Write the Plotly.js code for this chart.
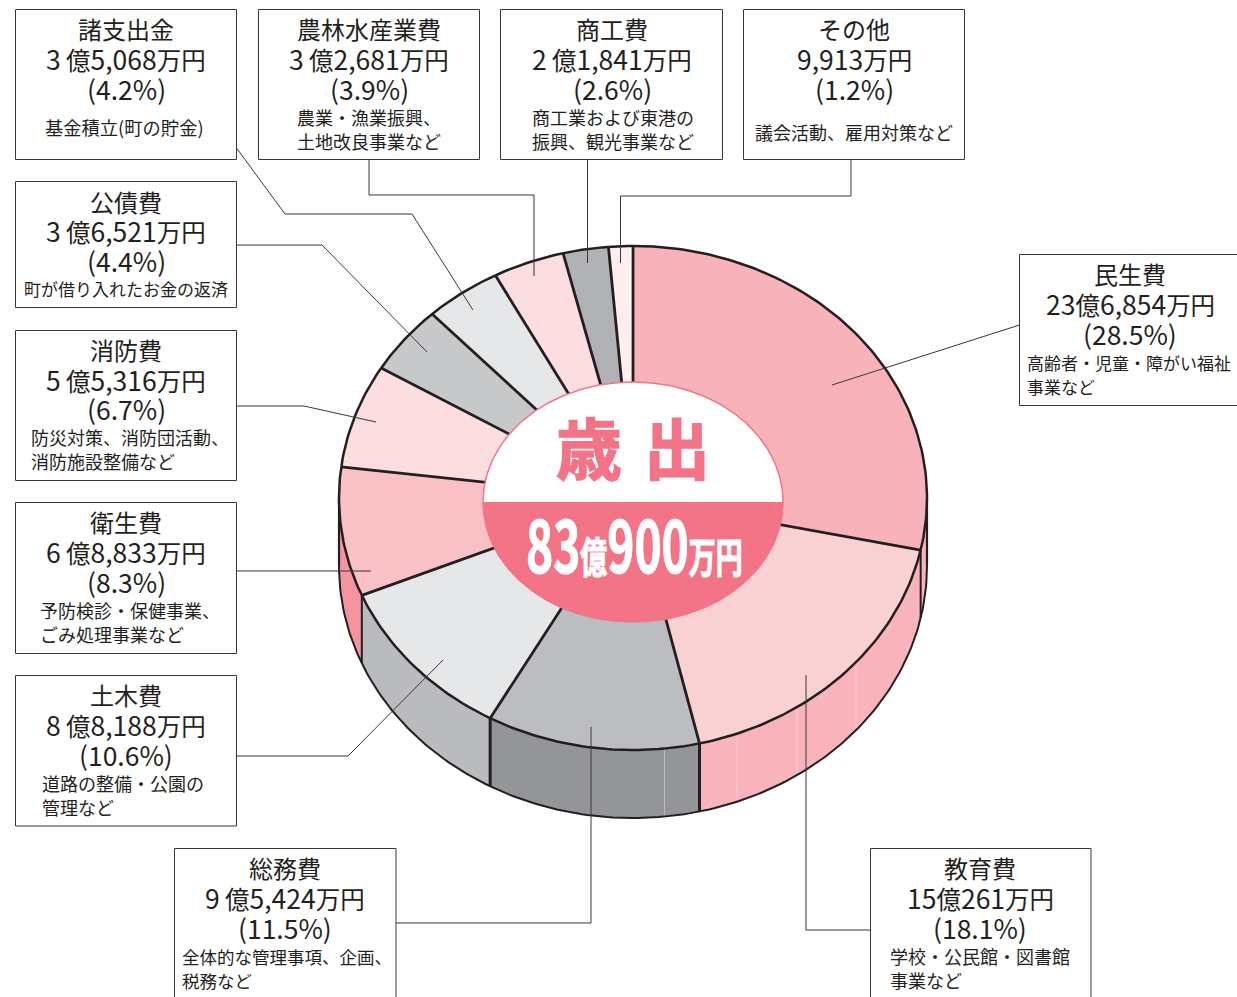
<!DOCTYPE html>
<html><head><meta charset="utf-8">
<script src="https://cdn.plot.ly/plotly-3.0.1.min.js"></script>
<style>html,body{margin:0;padding:0;background:#fff;overflow:hidden}#c{width:1237px;height:997px}</style>
</head><body><div id="c"></div><script>
// ---------- data ----------
const categories=["民生費","教育費","総務費","土木費","衛生費","消防費","公債費","諸支出金","農林水産業費","商工費","その他"];
const values=[236854,150261,95424,88188,68833,55316,36521,35068,32681,21841,9913];
const amounts=["23億6,854万円","15億261万円","9\u2009億5,424万円","8\u2009億8,188万円","6\u2009億8,833万円","5\u2009億5,316万円","3\u2009億6,521万円","3\u2009億5,068万円","3\u2009億2,681万円","2\u2009億1,841万円","9,913万円"];
const percents=["(28.5%)","(18.1%)","(11.5%)","(10.6%)","(8.3%)","(6.7%)","(4.4%)","(4.2%)","(3.9%)","(2.6%)","(1.2%)"];
const notes=[["高齢者・児童・障がい福祉","事業など"],["学校・公民館・図書館","事業など"],["全体的な管理事項、企画、","税務など"],["道路の整備・公園の","管理など"],["予防検診・保健事業、","ごみ処理事業など"],["防災対策、消防団活動、","消防施設整備など"],["町が借り入れたお金の返済"],["基金積立(町の貯金)"],["農業・漁業振興、","土地改良事業など"],["商工業および東港の","振興、観光事業など"],["議会活動、雇用対策など"]];
const topColors=["#F7B3B9","#F9D1D3","#BBBDC1","#E6E7E9","#F9C0C5","#FCDDE0","#C6C8CA","#E6E7E9","#FCDDE0","#B0B2B6","#FEEEEF"];
const sideColors=["#F8B4BA","#F8B4BA","#949599","#B9BBBF","#F4949F","#F8B4BA","#B9BBBF","#B9BBBF","#F8B4BA","#949599","#F8B4BA"];
// the printed pie's slice edges sit a little off the exact shares (degrees)
const edgeNudge=[0,-0.7,-0.8,0,0,0,0,0,0,0,-0.5,-0.6,0];

// ---------- geometry of the drawing ----------
const INK="#231F20", PINK="#F37387";
const cx=633, cy=498, rx=294, ry=252, depth=68;
const hx=633, hy=502, hrx=150, hry=120;
const rad=d=>d*Math.PI/180;
const ex=(t)=>cx+rx*Math.sin(rad(t));
const ey=(t,dy=0)=>cy-ry*Math.cos(rad(t))+dy;
function arc(a,b,dy=0){const n=Math.max(2,Math.ceil(Math.abs(b-a)));const X=[],Y=[];
  for(let i=0;i<=n;i++){const t=a+(b-a)*i/n;X.push(ex(t));Y.push(ey(t,dy));}return [X,Y];}
const total=values.reduce((s,v)=>s+v,0);
let acc=0; const edges=[0];
values.forEach(v=>{acc+=v;edges.push(acc/total*360);});
edges.forEach((e,i)=>{edges[i]=e+edgeNudge[i];});

const traces=[];
const poly=(x,y,fill)=>traces.push({type:"scatter",mode:"lines",x,y,fill:"toself",fillcolor:fill,line:{width:0,color:fill},hoverinfo:"skip",showlegend:false});
const line=(x,y,w,c=INK)=>traces.push({type:"scatter",mode:"lines",x,y,line:{width:w,color:c},hoverinfo:"skip",showlegend:false});

// side walls
values.forEach((v,i)=>{
  const a=Math.max(edges[i],90), b=Math.min(edges[i+1],270);
  if(b<=a) return;
  const [x1,y1]=arc(a,b), [x2,y2]=arc(b,a,depth);
  poly(x1.concat(x2),y1.concat(y2),sideColors[i]);
});
// faint seams on the wall
[[737,737,800],[797,710,773],[856,667,730]].forEach(s=>line([s[0],s[0]],[s[1],s[2]],1,"rgba(255,255,255,0.35)"));
line([664.5,664.5],[750,815],1,"rgba(255,255,255,0.35)");
// wall outlines
{const [x,y]=arc(90,270,depth); line(x,y,2);}
[90,270].forEach(t=>line([ex(t),ex(t)],[ey(t),ey(t,depth)],2.2));
edges.forEach((e,i)=>{ if(e>90&&e<270){ const w=(i===2||i===3)?3:2; line([ex(e),ex(e)],[ey(e),ey(e,depth)],w);} });
// top face
values.forEach((v,i)=>{
  const [x,y]=arc(edges[i],edges[i+1]);
  poly([cx].concat(x),[cy].concat(y),topColors[i]);
});
{const [x,y]=arc(0,360); line(x,y,2.5);}
edges.slice(0,-1).forEach(e=>line([cx,ex(e)],[cy,ey(e)],2.8));
// centre
const hole=(a,b)=>{const X=[],Y=[];for(let t=a;t<=b;t++){X.push(hx+hrx*Math.sin(rad(t)));Y.push(hy-hry*Math.cos(rad(t)));}return [X,Y];};
{const [x,y]=hole(-90,90);poly(x,y,"#FFFFFF");line(x,y,1.5,PINK);}
{const [x,y]=hole(90,270);poly(x,y,PINK);line(x,y,1.5,PINK);}

// ---------- labels ----------
const FONT='"Noto Sans CJK JP","Noto Sans",sans-serif';
const annotations=[];
function txt(x,y,text,size,anchor="center",color=INK,weight=400){
  annotations.push({x,y,xref:"x",yref:"y",text,showarrow:false,xanchor:anchor,yanchor:"middle",borderpad:0,
    font:{family:FONT,size,color,weight},captureevents:false});
}
const boxes=[
 {b:[1019.5,254.5,1240,405.5],cx:1130,tops:[273,303,333],nx:1026,na:"left",ny:[362,386],ns:17},
 {b:[870.5,848.5,1091,1003],cx:980,tops:[867,897,927],nx:889,na:"left",ny:[956,980],ns:18},
 {b:[174.5,848.5,396,1003],cx:285,tops:[867,897,927],nx:181,na:"left",ny:[956,980],ns:17.5},
 {b:[15.5,675.5,236.5,826],cx:126,tops:[694,724,754],nx:41,na:"left",ny:[783,807],ns:18},
 {b:[15.5,502.5,236.5,653.5],cx:126,tops:[521,551,581],nx:39,na:"left",ny:[610,634],ns:18},
 {b:[15.5,330.5,236.5,480.5],cx:126,tops:[349,379,408],nx:30,na:"left",ny:[437,461],ns:18},
 {b:[15.5,181.5,236.5,307.5],cx:126,tops:[201,230,260],nx:126,na:"center",ny:[288],ns:17},
 {b:[15.5,9.5,236.5,159.5],cx:126,tops:[28,58,88],nx:124,na:"center",ny:[127],ns:18.3},
 {b:[258.5,9.5,479.5,159.5],cx:369,tops:[28,58,88],nx:296,na:"left",ny:[117,141],ns:18},
 {b:[500.5,9.5,722.5,159.5],cx:612,tops:[28,58,88],nx:531,na:"left",ny:[117,141],ns:18},
 {b:[743.5,9.5,964.5,159.5],cx:854,tops:[28,58,88],nx:854,na:"center",ny:[132],ns:18}
];
const shapes=[];
const amountHtml=s=>s.replace(/[億万円]+/g,m=>`<span style="font-size:24.5px">${m}</span>`);
boxes.forEach((B,i)=>{
  shapes.push({type:"rect",xref:"x",yref:"y",x0:B.b[0],y0:B.b[1],x1:B.b[2],y1:B.b[3],fillcolor:"#fff",line:{color:"#3a3637",width:1},layer:"above"});
  txt(B.cx,B.tops[0],categories[i],24);
  txt(B.cx,B.tops[1],amountHtml(amounts[i]),26.5);
  txt(B.cx,B.tops[2],percents[i],26.5);
  notes[i].forEach((n,k)=>txt(B.nx,B.ny[k],n,B.ns,B.na));
});
const leaders=[
 "M1019.5 325 L832 385",
 "M870.5 930 L806 930 L806 675",
 "M396.5 923 L591 923 L591 727",
 "M236.5 756 L348 756 L443 660",
 "M236.5 571 L371 571",
 "M236.5 406 L304 406 L376 422",
 "M236.5 245 L322 245 L427 352",
 "M236.5 148 L285 214 L412 214 L473 310",
 "M369 159.5 L369 195 L534 195 L534 276",
 "M587.5 159.5 L587.5 263",
 "M851 159.5 L851 196 L620.5 196 L620.5 263"
];
leaders.forEach(p=>shapes.push({type:"path",xref:"x",yref:"y",path:p,line:{color:"#3a3637",width:1},layer:"above"}));

// centre text
txt(633,445,"歳\u2004出",66,"center",PINK,700);
txt(634,541,'83<span style="font-size:42px">億</span>900<span style="font-size:42px">万円</span>',72,"center","#fff",700);

const layout={width:1237,height:997,margin:{l:0,r:0,t:0,b:0},paper_bgcolor:"#fff",plot_bgcolor:"#fff",showlegend:false,
 xaxis:{range:[0,1237],visible:false,fixedrange:true},yaxis:{range:[997,0],visible:false,fixedrange:true},
 shapes,annotations,font:{family:FONT}};
Plotly.newPlot("c",traces,layout,{displayModeBar:false,staticPlot:true}).then(()=>{
  document.querySelectorAll(".annotation-text").forEach(t=>{
    const k=t.textContent;
    if(k.startsWith("83")){
      const c=parseFloat(t.getAttribute("x"))||0;
      t.setAttribute("transform",`translate(${c} 0) scale(0.64 1) translate(${-c} 0)`);
      t.style.stroke="#fff";t.style.strokeWidth="1.2px";
    }
    if(k.startsWith("歳")){t.style.stroke=PINK;t.style.strokeWidth="1.6px";}
  });
});
</script></body></html>
